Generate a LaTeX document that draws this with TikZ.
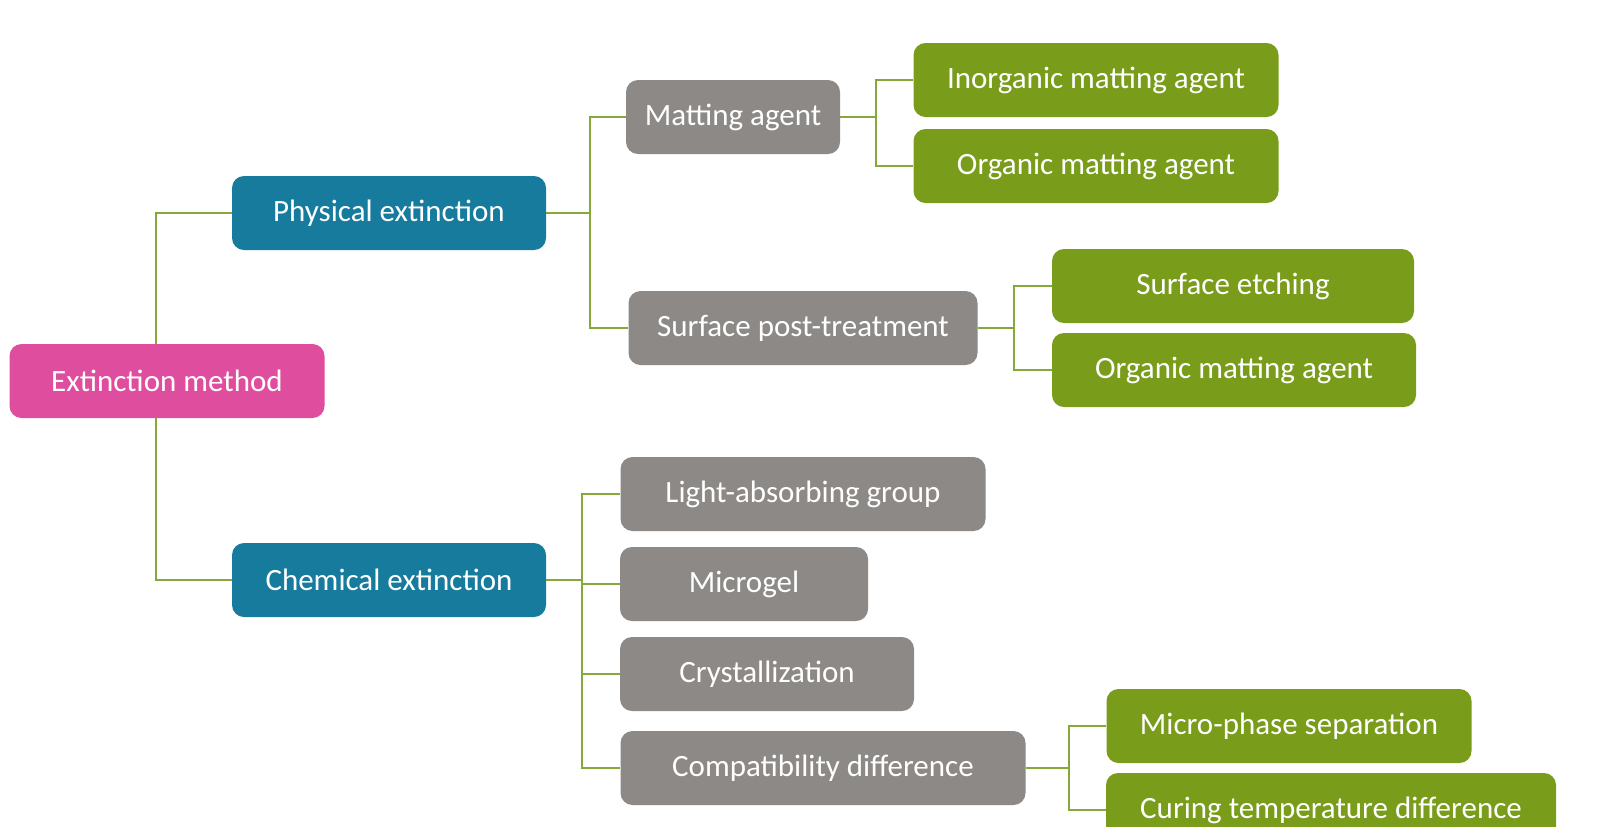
\documentclass[tikz,border=0pt]{standalone}
\usepackage{fontspec}
\setmainfont{Carlito}
\usetikzlibrary{backgrounds}
\definecolor{cpink}{HTML}{DF4E9E}
\definecolor{cteal}{HTML}{167B9D}
\definecolor{cgray}{HTML}{8C8986}
\definecolor{cgreen}{HTML}{799C1B}
\definecolor{cline}{HTML}{86A83A}
\tikzset{
  box/.style={rounded corners=6pt, minimum height=37pt, inner sep=0pt, text=white,
    font=\fontsize{15.5}{18}\selectfont, align=center},
  rootbox/.style={box, fill=cpink},
  lvone/.style={box, fill=cteal},
  lvtwo/.style={box, fill=cgray},
  lvthree/.style={box, fill=cgreen},
  conn/.style={draw=cline, line width=1pt}
}
\begin{document}
\begin{tikzpicture}[x=0.5pt,y=-0.5pt]
\clip (0,0) rectangle (1600,826);
\useasboundingbox (0,0) rectangle (1600,826);
\node[rootbox, minimum width=157.5pt] (root) at (167,381) {Extinction method};
\node[lvone, minimum width=157pt] (phys) at (389,213) {Physical extinction};
\node[lvone, minimum width=157pt] (chem) at (389,580) {Chemical extinction};
\node[lvtwo, minimum width=107pt] (matt) at (733,117) {Matting agent};
\node[lvtwo, minimum width=174.5pt] (surf) at (803,328) {Surface post-treatment};
\node[lvthree, minimum width=182.5pt] (inorg) at (1096,80) {Inorganic matting agent};
\node[lvthree, minimum width=182.5pt] (orgone) at (1096,166) {Organic matting agent};
\node[lvthree, minimum width=181pt] (etch) at (1233,286) {Surface etching};
\node[lvthree, minimum width=182pt] (orgtwo) at (1234,370) {Organic matting agent};
\node[lvtwo, minimum width=182.5pt] (light) at (803,494) {Light-absorbing group};
\node[lvtwo, minimum width=124pt] (micro) at (744,584) {Microgel};
\node[lvtwo, minimum width=147pt] (cryst) at (767,674) {Crystallization};
\node[lvtwo, minimum width=202.5pt] (compat) at (823,768) {Compatibility difference};
\node[lvthree, minimum width=182.5pt] (mps) at (1289,726) {Micro-phase separation};
\node[lvthree, minimum width=225pt] (curing) at (1331,810) {Curing temperature difference};
\coordinate (bone) at (590,213);
\coordinate (btwo) at (876,117);
\coordinate (bthree) at (1014,328);
\coordinate (bfour) at (582,580);
\coordinate (bfive) at (1069,768);
\begin{scope}[on background layer]
\fill[white] (0,0) rectangle (1600,826);
\draw[conn] ([xshift=-5.5pt]root.north) |- (phys.west);
\draw[conn] ([xshift=-5.5pt]root.south) |- (chem.west);
\draw[conn] (phys.east) -- (bone);
\draw[conn] (matt.west) -| (bone) |- (surf.west);
\draw[conn] (matt.east) -- (btwo);
\draw[conn] (inorg.west) -| (btwo) |- (orgone.west);
\draw[conn] (surf.east) -- (bthree);
\draw[conn] (etch.west) -| (bthree) |- (orgtwo.west);
\draw[conn] (chem.east) -- (bfour);
\draw[conn] (light.west) -| (bfour) |- (compat.west);
\draw[conn] (micro.west) -| (bfour);
\draw[conn] (cryst.west) -| (bfour);
\draw[conn] (compat.east) -- (bfive);
\draw[conn] (mps.west) -| (bfive) |- (curing.west);
\end{scope}
\end{tikzpicture}
\end{document}
